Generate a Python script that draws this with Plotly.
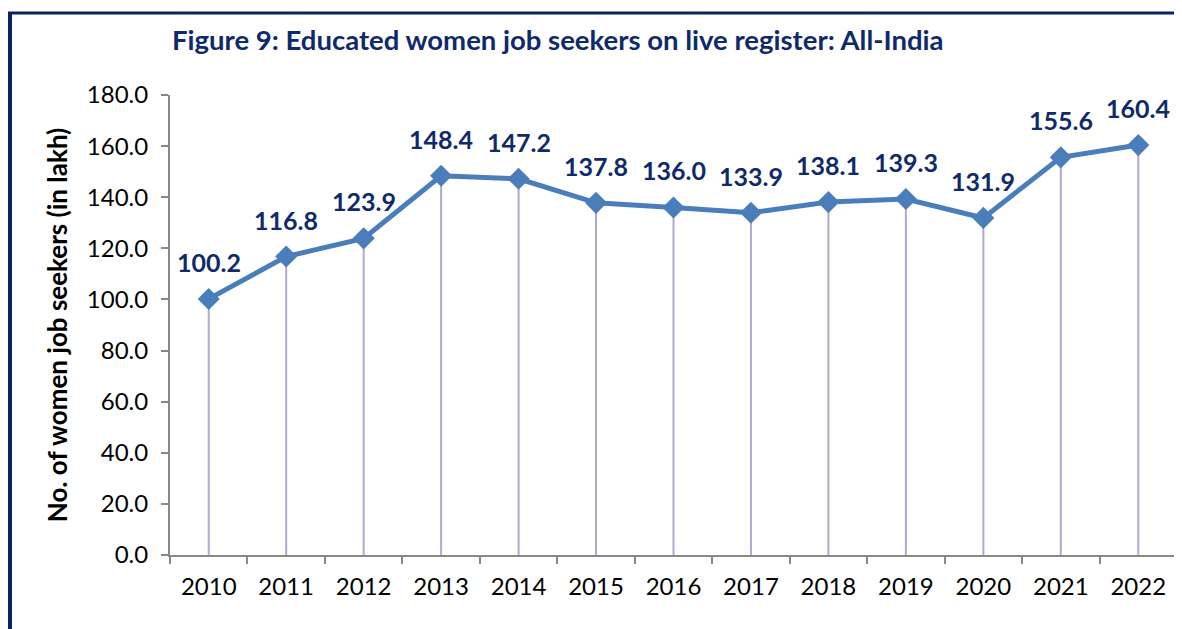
import plotly.graph_objects as go

years = ["2010", "2011", "2012", "2013", "2014", "2015", "2016", "2017", "2018", "2019", "2020", "2021", "2022"]
values = [100.2, 116.8, 123.9, 148.4, 147.2, 137.8, 136.0, 133.9, 138.1, 139.3, 131.9, 155.6, 160.4]
y_ticks = [0, 20, 40, 60, 80, 100, 120, 140, 160, 180]
y_tick_labels = [f"{v:.1f}" for v in y_ticks]

# page has an 8px body margin, so figure coords = screen coords - 8
OFF = 8
W, H = 1182, 629
L, T = 170 - OFF, 95 - OFF
R = W - (1177 - OFF)
B = H - (555 - OFF)
pw, ph = W - L - R, H - T - B

def px_x(p):
    return (p - OFF - L) / pw

def px_y(p):
    return (H - B - (p - OFF)) / ph

FONT = "Lato, Open Sans, sans-serif"
NAVY = "#0F2A6B"

fig = go.Figure()

# drop lines
fig.add_trace(go.Scatter(
    x=years, y=values, mode="markers",
    marker=dict(size=1, opacity=0),
    error_y=dict(type="data", symmetric=False, array=[0] * len(values),
                 arrayminus=values, color="#B4A7D1", thickness=2, width=0),
    hoverinfo="skip", showlegend=False,
))

fig.add_trace(go.Scatter(
    x=years, y=values, mode="lines+markers",
    line=dict(color="#4A7EBB", width=5),
    marker=dict(symbol="diamond", size=17, color="#4A7EBB"),
    showlegend=False,
))

for i, v in enumerate(values):
    fig.add_annotation(x=i, y=v, text=f"<b>{v:.1f}</b>", showarrow=False,
                       yshift=37, font=dict(family=FONT, size=25, color=NAVY))

fig.add_annotation(x=px_x(558), y=px_y(40), xref="paper", yref="paper",
                   text="<b>Figure 9: Educated women job seekers on live register: All-India</b>",
                   showarrow=False, font=dict(family=FONT, size=27.5, color=NAVY),
                   xanchor="center", yanchor="middle")

# frame (left and top)
fig.add_shape(type="line", xref="paper", yref="paper",
              x0=px_x(10), x1=px_x(10), y0=px_y(12), y1=px_y(660),
              line=dict(color="#0A2463", width=4))
fig.add_shape(type="line", xref="paper", yref="paper",
              x0=px_x(8), x1=px_x(1200), y0=px_y(13), y1=px_y(13),
              line=dict(color="#0A2463", width=3))

fig.update_layout(
    width=W, height=H,
    margin=dict(l=L, r=R, t=T, b=B, pad=0),
    paper_bgcolor="white", plot_bgcolor="white",
    font=dict(family=FONT, color="black"),
    xaxis=dict(
        type="category", showgrid=False, showline=True, linecolor="#888888", linewidth=2,
        ticks="outside", ticklen=7, tickcolor="#888888", tickwidth=2,
        tickson="boundaries", tickfont=dict(size=24, family=FONT, color="black"),
        ticklabelstandoff=9,
        range=[-0.5, len(years) - 0.5], zeroline=False,
    ),
    yaxis=dict(
        range=[0, 180], tickvals=y_ticks, ticktext=y_tick_labels,
        showgrid=False, showline=True, linecolor="#888888", linewidth=2,
        ticks="outside", ticklen=7, tickcolor="#888888", tickwidth=2,
        tickfont=dict(size=24, family=FONT, color="black"), zeroline=False,
        ticklabelstandoff=8,
        title=dict(text="<b>No. of women job seekers (in lakh)</b>",
                   font=dict(size=26, family=FONT, color="black"), standoff=12),
    ),
)

fig.write_html("out.html")
